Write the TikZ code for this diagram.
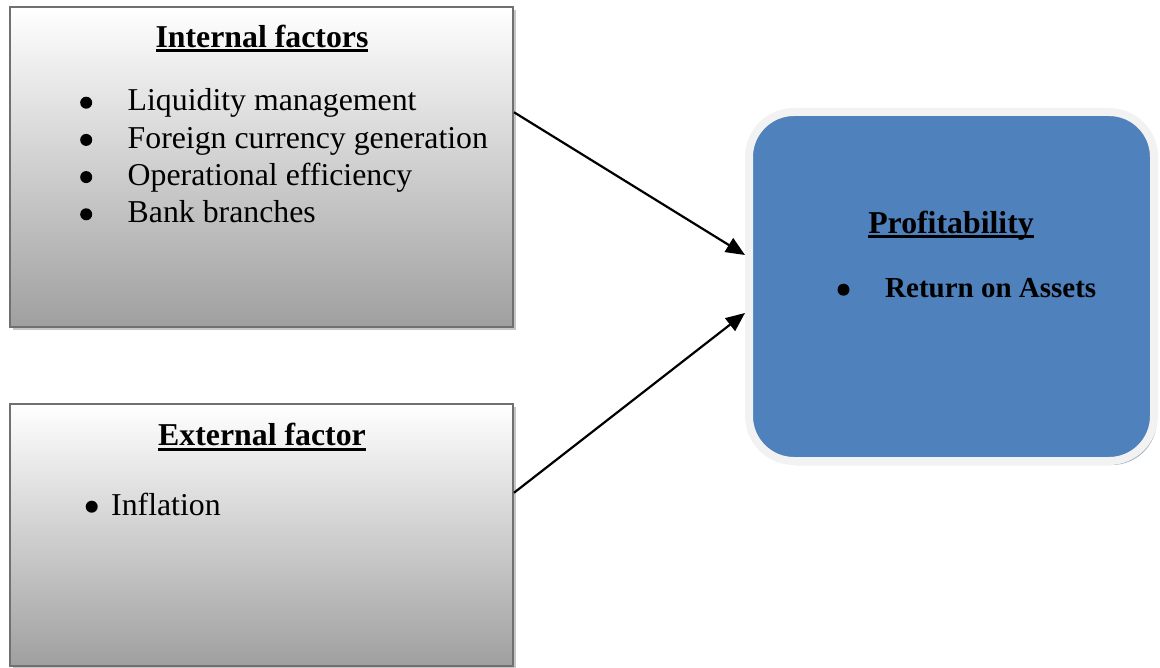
\documentclass[tikz,border=0pt]{standalone}
\usepackage{fontspec}
\setmainfont{Liberation Serif}
\usetikzlibrary{arrows.meta,shadows,calc}

\definecolor{boxline}{HTML}{707070}
\definecolor{profblue}{HTML}{4F81BD}
\definecolor{profrim}{HTML}{F2F2F2}

\newsavebox\ulbox
\newcommand{\ultext}[1]{\sbox\ulbox{#1}\usebox\ulbox\llap{\rule[-4.5pt]{\wd\ulbox}{3pt}}}
\newcommand{\blt}{\makebox[0pt]{\raisebox{2.3pt}{\tikz\fill circle (6pt);}}}

\tikzset{
  factorbox/.style={draw=boxline, line width=2pt, top color=white, bottom color=gray!75,
    inner sep=0pt, drop shadow={shadow xshift=3pt, shadow yshift=-3pt, fill=gray!45, opacity=1}},
  profbox/.style={draw=profrim, line width=8pt, fill=profblue, rounded corners=45pt,
    inner sep=0pt, drop shadow={shadow xshift=3pt, shadow yshift=-4pt, fill=black!35!profblue!45, opacity=1}},
  boxtext/.style={inner sep=0pt, font=\fontsize{31.8}{37.2}\selectfont},
  link/.style={-{Triangle[length=19pt,width=16pt]}, line width=2.2pt}
}

\begin{document}
\begin{tikzpicture}[x=1pt, y=-1pt]
  \useasboundingbox (0,0) rectangle (1160,668);

  % the two groups of factors
  \node[factorbox, minimum width=503pt, minimum height=320pt] (internal) at (261.5,167) {};
  \node[factorbox, minimum width=503pt, minimum height=262pt] (external) at (261.5,535) {};
  \node[profbox, minimum width=405pt, minimum height=349pt] (prof) at (951.5,286.5) {};

  \node[boxtext, anchor=base] (inttitle) at (262,48) {\ultext{\textbf{Internal factors}}};
  \node[boxtext, anchor=base west] (intlist) at (86,111) {%
    \begin{tabular}[t]{@{}l@{\hspace{41.5pt}}l@{}}
      \blt & Liquidity management\\
      \blt & Foreign currency generation\\
      \blt & Operational efficiency\\
      \blt & Bank branches
    \end{tabular}};

  \node[boxtext, anchor=base] (exttitle) at (262,446) {\ultext{\textbf{External factor}}};
  \node[boxtext, anchor=base west] (extlist) at (91.5,515) {%
    \begin{tabular}[t]{@{}l@{\hspace{19.5pt}}l@{}}
      \blt & Inflation
    \end{tabular}};

  \node[boxtext, anchor=base] (proftitle) at (951,234) {\ultext{\textbf{Profitability}}};
  \node[inner sep=0pt, font=\fontsize{29}{35}\selectfont\bfseries, anchor=base west] (proflist) at (843.3,298) {%
    \begin{tabular}[t]{@{}l@{\hspace{41.7pt}}l@{}}
      \blt & Return on Assets
    \end{tabular}};

  \draw[link] ($(internal.north east)!0.33!(internal.south east)$) -- ($(prof.west)+(0,-31.5)$);
  \draw[link] ($(external.north east)!0.34!(external.south east)$) -- ($(prof.west)+(0,26.5)$);
\end{tikzpicture}
\end{document}
